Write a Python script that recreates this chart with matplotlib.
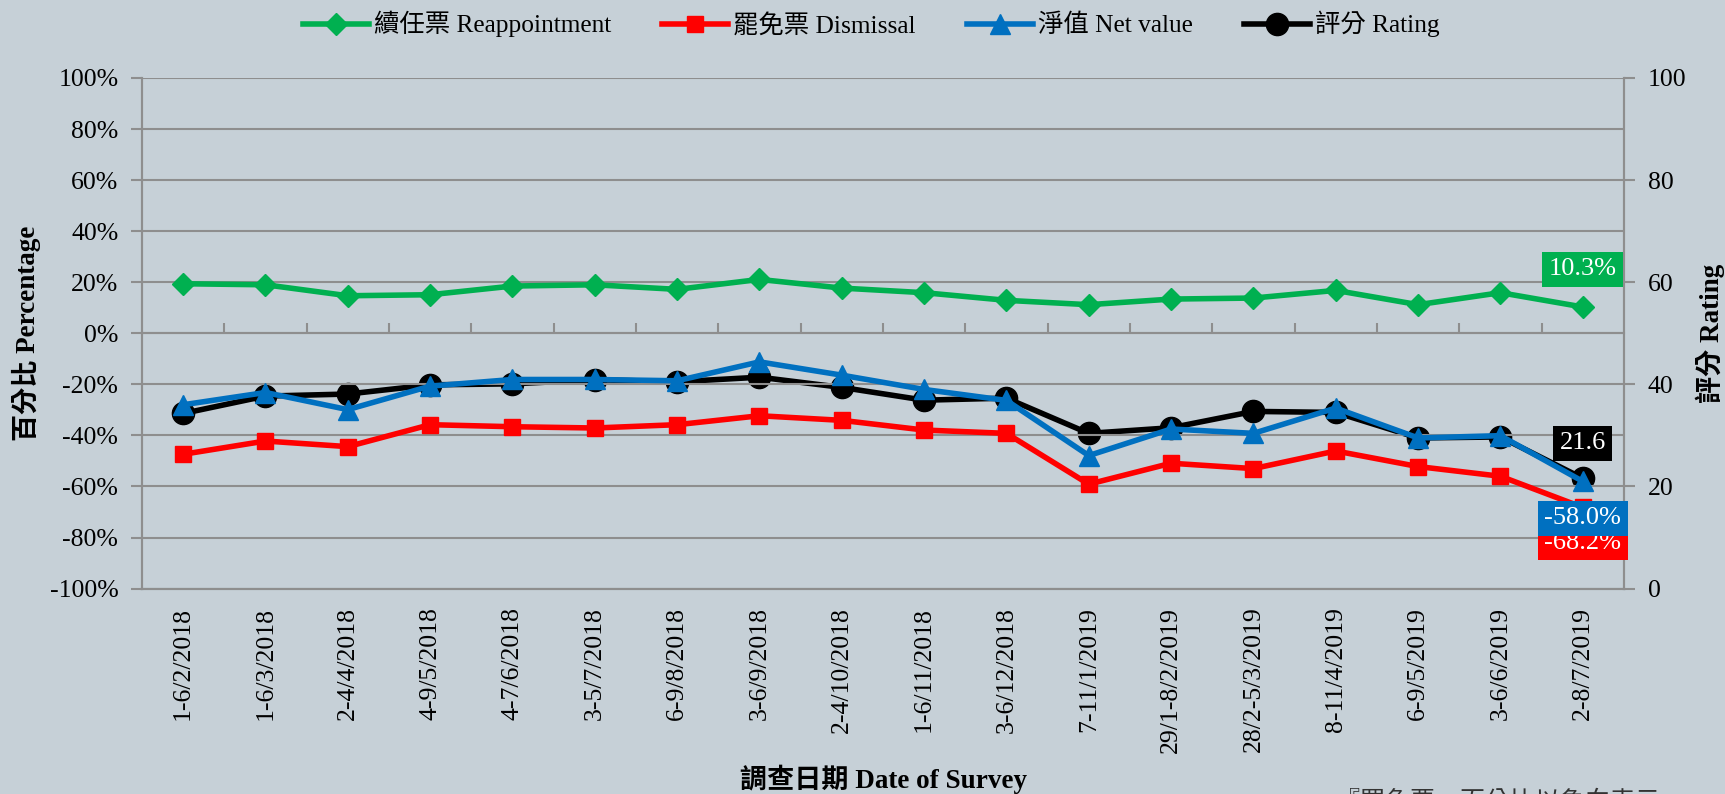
import numpy as np
import matplotlib
matplotlib.use("Agg")
from matplotlib import pyplot as plt

fam = ['Liberation Serif', 'Noto Sans CJK TC']
plt.rcParams['font.family'] = fam

dates = ["1-6/2/2018", "1-6/3/2018", "2-4/4/2018", "4-9/5/2018", "4-7/6/2018",
         "3-5/7/2018", "6-9/8/2018", "3-6/9/2018", "2-4/10/2018", "1-6/11/2018",
         "3-6/12/2018", "7-11/1/2019", "29/1-8/2/2019", "28/2-5/3/2019",
         "8-11/4/2019", "6-9/5/2019", "3-6/6/2019", "2-8/7/2019"]
reappoint = [19.4, 19.0, 14.7, 15.1, 18.5, 19.0, 17.2, 21.1, 17.7, 15.9,
             12.9, 11.2, 13.4, 13.8, 16.8, 11.2, 15.9, 10.3]
dismissal = [-47.4, -42.2, -44.4, -35.8, -36.6, -37.1, -35.8, -32.3, -34.1, -37.9,
             -39.2, -59.1, -50.9, -53.0, -46.1, -52.2, -56.0, -68.2]
net_value = [-28.0, -23.2, -29.9, -20.7, -18.1, -18.1, -18.6, -11.2, -16.4, -22.0,
             -26.3, -47.9, -37.5, -39.2, -29.3, -41.0, -40.1, -58.0]
rating = [34.3, 37.7, 38.1, 39.9, 40.1, 40.9, 40.5, 41.4, 39.4, 36.9,
          37.3, 30.4, 31.5, 34.7, 34.5, 29.5, 29.7, 21.6]

bg = '#C6D0D7'
grid_c = '#8E8E8E'
green, red, blue = '#00B050', '#FF0000', '#0070C0'

fig = plt.figure(figsize=(17.25, 7.94), dpi=100, facecolor=bg)
ax = fig.add_axes([0.0823, 0.2587, 0.8591, 0.6431], facecolor=bg)
ax2 = ax.twinx()
x = np.arange(len(dates))

ax.plot(x, reappoint, color=green, lw=4, marker='D', ms=11, label='續任票 Reappointment', zorder=3)
ax.plot(x, dismissal, color=red, lw=4, marker='s', ms=12, label='罷免票 Dismissal', zorder=3)
ax.plot(x, net_value, color=blue, lw=4, marker='^', ms=14, label='淨值 Net value', zorder=3)
ax2.plot(x, rating, color='black', lw=4, marker='o', ms=16, label='評分 Rating', zorder=3)

ax.set_xlim(-0.5, len(dates) - 0.5)
ax.set_ylim(-100, 100)
ax2.set_ylim(0, 100)
ax.set_yticks(np.arange(-100, 101, 20))
ax.set_yticklabels(["{0}%".format(v) for v in range(-100, 101, 20)], fontsize=18.5)
ax2.set_yticks(np.arange(0, 101, 20))
ax2.set_yticklabels([str(v) for v in range(0, 101, 20)], fontsize=18.5)
ax.set_xticks(x)
ax.set_xticklabels(dates, rotation=90, fontsize=18.5)
ax.tick_params(axis='x', length=0, pad=13)
ax.tick_params(axis='y', length=8, width=1.5, color=grid_c, direction='out', pad=9)
ax2.tick_params(axis='y', length=8, width=1.5, color=grid_c, direction='out', pad=9)
ax.grid(axis='y', color=grid_c, lw=1.5)
ax.set_axisbelow(True)

for a in (ax, ax2):
    a.spines['top'].set_visible(False)
    for s in ('left', 'right', 'bottom'):
        a.spines[s].set_color(grid_c)
        a.spines[s].set_linewidth(1.5)

# horizontal axis line at 0% with boundary ticks
zero = ax.secondary_xaxis(0.5)
zero.set_xticks(np.arange(0.5, len(dates) - 1, 1))
zero.set_xticklabels([])
zero.tick_params(axis='x', which='both', length=7, width=1.5, color=grid_c,
                 labelbottom=False, labeltop=False)
zero.spines['bottom'].set_color(grid_c)
zero.spines['bottom'].set_linewidth(1.5)
zero.spines['top'].set_color(grid_c)
zero.spines['top'].set_linewidth(1.5)

ax.set_ylabel('百分比 Percentage', fontsize=19.5, fontweight='bold', labelpad=6)
ax2.set_ylabel('評分 Rating', fontsize=19.5, fontweight='bold', labelpad=7)
fig.text(0.512, 0.018, '調查日期 Date of Survey', fontsize=19.5, fontweight='bold',
         ha='center', va='center')

# end labels
last = len(dates) - 1
ax.text(last, -82.0, "{0}%".format(dismissal[-1]), color='white', fontsize=19, ha='center', va='center',
        bbox=dict(boxstyle='square,pad=0.25', fc=red, ec='none'), zorder=5)
ax.text(last, -72.4, "{0}%".format(net_value[-1]), color='white', fontsize=19, ha='center', va='center',
        bbox=dict(boxstyle='square,pad=0.25', fc=blue, ec='none'), zorder=6)
ax.text(last, 25.0, "{0}%".format(reappoint[-1]), color='white', fontsize=19, ha='center', va='center',
        bbox=dict(boxstyle='square,pad=0.25', fc=green, ec='none'), zorder=6)
ax.text(last, -43.1, "{0}".format(rating[-1]), color='white', fontsize=19, ha='center', va='center',
        bbox=dict(boxstyle='square,pad=0.25', fc='black', ec='none'), zorder=6)
ax.set_zorder(ax2.get_zorder() + 1)
ax.patch.set_visible(False)
ax2.patch.set_visible(True)
ax2.patch.set_facecolor(bg)

h1, l1 = ax.get_legend_handles_labels()
h2, l2 = ax2.get_legend_handles_labels()
fig.legend(h1 + h2, l1 + l2, loc='upper center', bbox_to_anchor=(0.505, 1.015), ncol=4,
           frameon=False, fontsize=18.3, handlelength=2.6, columnspacing=2.0, handletextpad=0.2)

fig.text(0.774, 0.005, '『罷免票』百分比以負向表示', fontsize=18, color='#333333', ha='left', va='top')

fig.savefig('out.png', dpi=100, facecolor=bg)
